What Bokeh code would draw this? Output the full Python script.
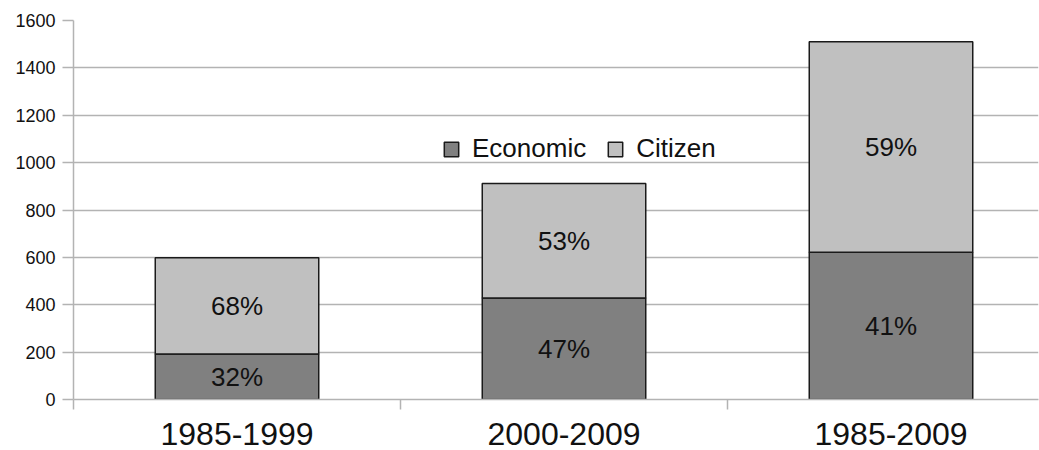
from bokeh.plotting import figure
from bokeh.models import (ColumnDataSource, Range1d, FixedTicker, Legend, LegendItem)
from bokeh.core.properties import value
from bokeh.embed import file_html
from bokeh.resources import INLINE

categories = ["1985-1999", "2000-2009", "1985-2009"]
economic = [192, 428, 622]
citizen = [406, 484, 888]
economic_pct = ["32%", "47%", "41%"]
citizen_pct = ["68%", "53%", "59%"]
y_ticks = [0, 200, 400, 600, 800, 1000, 1200, 1400, 1600]

FONT = "Liberation Sans"

xpos = [i + 0.5 for i in range(len(categories))]
src = ColumnDataSource(dict(
    x=xpos, economic=economic, citizen=citizen,
    econ_mid=[e / 2 for e in economic],
    cit_mid=[e + c / 2 for e, c in zip(economic, citizen)],
    econ_lbl=economic_pct, cit_lbl=citizen_pct,
))

p = figure(width=1039, height=450, output_backend="svg", toolbar_location=None,
           x_range=Range1d(0, 965 / 327), y_range=Range1d(0, 1600),
           min_border_left=73, min_border_right=1, min_border_top=20, min_border_bottom=51)
p.outline_line_color = None
p.background_fill_color = "white"
p.border_fill_color = "white"

rs = p.vbar_stack(["economic", "citizen"], x="x", width=0.5, source=src,
                  fill_color=["#808080", "#c0c0c0"], line_color="#1a1a1a", line_width=1.5)

p.text(x="x", y="econ_mid", text="econ_lbl", source=src, text_align="center",
       text_baseline="middle", text_font=value(FONT), text_font_size="26px", text_color="#111111")
p.text(x="x", y="cit_mid", text="cit_lbl", source=src, text_align="center",
       text_baseline="middle", text_font=value(FONT), text_font_size="26px", text_color="#111111")

# grid
p.xgrid.grid_line_color = None
p.ygrid.grid_line_color = "#b3b3b3"
p.ygrid.grid_line_width = 1.5
p.ygrid.ticker = FixedTicker(ticks=y_ticks)

# y axis
yax = p.yaxis[0]
yax.ticker = FixedTicker(ticks=y_ticks)
yax.axis_line_color = "#b3b3b3"
yax.axis_line_width = 1.5
yax.major_tick_line_color = "#b3b3b3"
yax.major_tick_line_width = 1.5
yax.major_tick_out = 11
yax.major_tick_in = 0
yax.minor_tick_line_color = None
yax.major_label_standoff = 7
yax.major_label_text_font = FONT
yax.major_label_text_font_size = "18px"
yax.major_label_text_color = "#111111"

# x axis
xax = p.xaxis[0]
xax.ticker = FixedTicker(ticks=xpos, minor_ticks=[float(i) for i in range(len(categories) + 1)])
xax.major_label_overrides = {x: c for x, c in zip(xpos, categories)}
xax.axis_line_color = "#b3b3b3"
xax.axis_line_width = 1.5
xax.major_tick_line_color = None
xax.major_tick_out = 0
xax.major_tick_in = 0
xax.minor_tick_line_color = "#b3b3b3"
xax.minor_tick_line_width = 1.5
xax.minor_tick_out = 10
xax.minor_tick_in = 0
xax.major_label_standoff = 13
xax.major_label_text_font = FONT
xax.major_label_text_font_size = "32px"
xax.major_label_text_color = "#111111"

legend = Legend(items=[LegendItem(label="Economic", renderers=[rs[0]]),
                       LegendItem(label="Citizen", renderers=[rs[1]])],
                orientation="horizontal", location=(369, 235),
                glyph_width=18, glyph_height=18, label_standoff=12, spacing=20,
                padding=0, margin=0, label_text_font=FONT, label_text_font_size="26px",
                label_text_color="#111111", label_height=18,
                background_fill_alpha=0, border_line_color=None)
p.add_layout(legend, "center")

open("out.html", "w").write(file_html(p, INLINE))
